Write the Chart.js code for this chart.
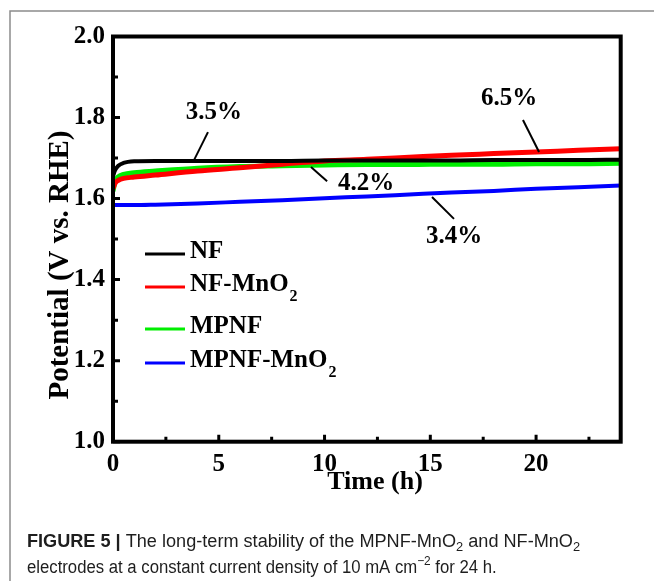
<!DOCTYPE html>
<html>
<head>
<meta charset="utf-8">
<script src="https://cdn.jsdelivr.net/npm/chart.js@4.4.1/dist/chart.umd.min.js"></script>
<style>
  html, body { margin: 0; padding: 0; background: #fff; }
  #c { display: block; }
</style>
</head>
<body>
<canvas id="c" width="654" height="581"></canvas>
<script>
// ---- data ----
const timeH = [0, 0.1, 0.25, 0.5, 1, 2, 4, 6, 8, 10, 12, 14, 16, 18, 20, 22, 24];
const seriesNames = ['NF', 'NF-MnO', 'MPNF', 'MPNF-MnO'];
const seriesSubs  = ['', '2', '', '2'];
const nfValues       = [1.655, 1.670, 1.681, 1.688, 1.692, 1.693, 1.693, 1.693, 1.693, 1.694, 1.694, 1.694, 1.694, 1.695, 1.695, 1.695, 1.696];
const nfMnO2Values   = [1.625, 1.638, 1.645, 1.650, 1.653, 1.658, 1.668, 1.676, 1.685, 1.693, 1.697, 1.702, 1.707, 1.711, 1.715, 1.719, 1.723];
const mpnfValues     = [1.618, 1.642, 1.654, 1.660, 1.664, 1.668, 1.675, 1.679, 1.681, 1.683, 1.684, 1.684, 1.685, 1.685, 1.686, 1.686, 1.687];
const mpnfMnO2Values = [1.584, 1.584, 1.584, 1.584, 1.584, 1.585, 1.588, 1.592, 1.596, 1.601, 1.605, 1.610, 1.615, 1.619, 1.624, 1.628, 1.632];
const xTickValues = [0, 5, 10, 15, 20];
const xMinorTicks = [2.5, 7.5, 12.5, 17.5, 22.5];
const yTickValues = [1.0, 1.2, 1.4, 1.6, 1.8, 2.0];
const yMinorTicks = [1.1, 1.3, 1.5, 1.7, 1.9];
// annotations: label, label centre (data units), leader line from -> to (data units)
const annLabels = ['3.5%', '4.2%', '6.5%', '3.4%'];
const annText   = [[4.77, 1.812], [11.96, 1.636], [18.72, 1.848], [16.12, 1.507]];
const annFrom   = [[4.49, 1.764], [9.36, 1.678], [19.38, 1.794], [15.08, 1.604]];
const annTo     = [[3.83, 1.695], [10.12, 1.643], [20.14, 1.715], [16.12, 1.550]];

const colors = ['#000000', '#ff0000', '#00ee00', '#0000ff'];
const widths = [4, 5, 5, 4];
const allValues = [nfValues, nfMnO2Values, mpnfValues, mpnfMnO2Values];

const SERIF = '"Liberation Serif", "Times New Roman", serif';
const SANS = '"Liberation Sans", Arial, sans-serif';

const extras = {
  id: 'extras',
  afterDraw(chart) {
    const ctx = chart.ctx;
    const xs = chart.scales.x, ys = chart.scales.y;
    const a = chart.chartArea;
    ctx.save();
    // frame
    ctx.strokeStyle = '#000';
    ctx.lineWidth = 4;
    ctx.strokeRect(a.left, a.top, a.right - a.left, a.bottom - a.top);
    // inward ticks
    ctx.lineWidth = 3;
    ctx.beginPath();
    xTickValues.forEach(v => { const p = xs.getPixelForValue(v); ctx.moveTo(p, a.bottom); ctx.lineTo(p, a.bottom - 7); });
    xMinorTicks.forEach(v => { const p = xs.getPixelForValue(v); ctx.moveTo(p, a.bottom); ctx.lineTo(p, a.bottom - 5); });
    yTickValues.forEach(v => { const p = ys.getPixelForValue(v); ctx.moveTo(a.left, p); ctx.lineTo(a.left + 7, p); });
    yMinorTicks.forEach(v => { const p = ys.getPixelForValue(v); ctx.moveTo(a.left, p); ctx.lineTo(a.left + 5, p); });
    ctx.stroke();
    // annotations
    ctx.fillStyle = '#000';
    ctx.font = 'bold 25px ' + SERIF;
    ctx.textAlign = 'center';
    ctx.textBaseline = 'middle';
    ctx.lineWidth = 2;
    annLabels.forEach((t, i) => {
      ctx.fillText(t, xs.getPixelForValue(annText[i][0]), ys.getPixelForValue(annText[i][1]));
      ctx.beginPath();
      ctx.moveTo(xs.getPixelForValue(annFrom[i][0]), ys.getPixelForValue(annFrom[i][1]));
      ctx.lineTo(xs.getPixelForValue(annTo[i][0]), ys.getPixelForValue(annTo[i][1]));
      ctx.stroke();
    });
    // legend
    const legY = [254, 287, 329, 363];
    ctx.textAlign = 'left';
    chart.data.datasets.forEach((ds, i) => {
      ctx.strokeStyle = ds.borderColor;
      ctx.lineWidth = 3;
      ctx.beginPath();
      ctx.moveTo(145, legY[i]); ctx.lineTo(185, legY[i]);
      ctx.stroke();
      ctx.fillStyle = '#000';
      ctx.font = 'bold 25px ' + SERIF;
      ctx.textBaseline = 'middle';
      ctx.fillText(seriesNames[i], 190, legY[i] - 2);
      if (seriesSubs[i]) {
        const w = ctx.measureText(seriesNames[i]).width;
        ctx.font = 'bold 16px ' + SERIF;
        ctx.fillText(seriesSubs[i], 190 + w + 1, legY[i] + 10);
      }
    });
    // axis titles
    ctx.fillStyle = '#000';
    ctx.font = 'bold 26px ' + SERIF;
    ctx.textAlign = 'center';
    ctx.textBaseline = 'middle';
    ctx.fillText('Time (h)', 375, 482);
    ctx.save();
    ctx.translate(61, 265);
    ctx.rotate(-Math.PI / 2);
    ctx.font = 'bold 29px ' + SERIF;
    ctx.fillText('Potential (V vs. RHE)', 0, 0);
    ctx.restore();
    // outer figure border
    ctx.strokeStyle = '#8c8c8c';
    ctx.lineWidth = 1.5;
    ctx.beginPath();
    ctx.moveTo(10, 581); ctx.lineTo(10, 11); ctx.lineTo(654, 11);
    ctx.stroke();
    // caption
    ctx.fillStyle = '#1e1e1e';
    ctx.textAlign = 'left';
    ctx.textBaseline = 'alphabetic';
    const runs1 = [['b', 'FIGURE 5 | '], ['n', 'The long-term stability of the MPNF-MnO'], ['sub', '2'], ['n', ' and NF-MnO'], ['sub', '2']];
    const runs2 = [['n', 'electrodes at a constant current density of 10 mA cm'], ['sup', '\u22122'], ['n', ' for 24 h.']];
    const drawRuns = (runs, x0, y, sx) => {
      ctx.save();
      ctx.translate(x0, y);
      ctx.scale(sx, 1);
      let x = 0;
      runs.forEach(([k, t]) => {
        let dy = 0;
        if (k === 'b') ctx.font = 'bold 17.6px ' + SANS;
        else if (k === 'n') ctx.font = '17.6px ' + SANS;
        else { ctx.font = '12.5px ' + SANS; dy = k === 'sub' ? 4 : -8; }
        ctx.fillText(t, x, dy);
        x += ctx.measureText(t).width;
      });
      ctx.restore();
    };
    drawRuns(runs1, 27, 547, 1.03);
    drawRuns(runs2, 27, 573, 0.95);
    ctx.restore();
  }
};

new Chart(document.getElementById('c'), {
  type: 'line',
  data: {
    datasets: allValues.map((vals, i) => ({
      label: seriesNames[i] + seriesSubs[i],
      data: timeH.map((t, j) => ({ x: t, y: vals[j] })),
      borderColor: colors[i],
      borderWidth: widths[i],
      pointRadius: 0,
      fill: false,
      cubicInterpolationMode: 'monotone'
    }))
  },
  options: {
    responsive: false,
    animation: false,
    devicePixelRatio: 1,
    layout: { padding: { left: 10, top: 36.5, right: 33.3, bottom: 99.3 } },
    plugins: { legend: { display: false }, tooltip: { enabled: false }, title: { display: false } },
    scales: {
      x: {
        type: 'linear', min: 0, max: 24,
        afterBuildTicks: s => { s.ticks = xTickValues.map(v => ({ value: v })); },
        afterFit: s => { s.height = 40; },
        grid: { display: false, drawTicks: false },
        border: { display: false },
        ticks: { color: '#000', font: { family: SERIF, size: 25, weight: 'bold' }, padding: 8, maxRotation: 0, autoSkip: false }
      },
      y: {
        type: 'linear', min: 1.0, max: 2.0,
        afterBuildTicks: s => { s.ticks = yTickValues.map(v => ({ value: v })); },
        afterFit: s => { s.width = 103; },
        grid: { display: false, drawTicks: false },
        border: { display: false },
        ticks: { color: '#000', font: { family: SERIF, size: 25, weight: 'bold' }, padding: 8, autoSkip: false, callback: v => Number(v).toFixed(1) }
      }
    }
  },
  plugins: [extras]
});
</script>
</body>
</html>
